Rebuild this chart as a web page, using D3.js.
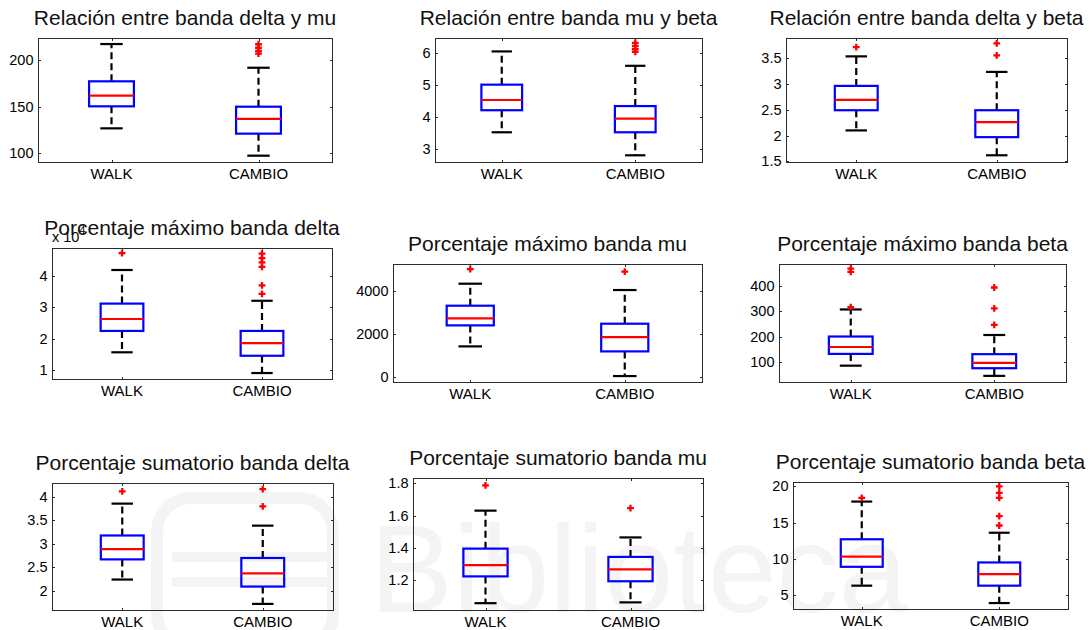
<!DOCTYPE html>
<html>
<head>
<meta charset="utf-8">
<script src="https://cdn.jsdelivr.net/npm/d3@7"></script>
<style>
  body { margin: 0; background: #fff; }
  svg { display: block; font-family: "Liberation Sans", Arial, Helvetica, sans-serif; }
</style>
</head>
<body>
<svg id="chart" width="1092" height="630"></svg>
<script>
// ---- data: one entry per panel, [WALK, CAMBIO] inside each ----
const groups = ["WALK", "CAMBIO"];

const titles = [
  "Relación entre banda delta y mu",
  "Relación entre banda mu y beta",
  "Relación entre banda delta y beta",
  "Porcentaje máximo banda delta",
  "Porcentaje máximo banda mu",
  "Porcentaje máximo banda beta",
  "Porcentaje sumatorio banda delta",
  "Porcentaje sumatorio banda mu",
  "Porcentaje sumatorio banda beta"
];

const whiskerLow = [
  [126.5, 97.1], [3.52, 2.80], [2.10, 1.62],
  [15700, 9100], [1431, 62], [87, 47],
  [2.24, 1.72], [1.06, 1.065], [6.3, 3.9]
];
const q1 = [
  [150.2, 120.8], [4.21, 3.52], [2.49, 1.97],
  [22500, 14600], [2400, 1200], [133, 77],
  [2.67, 2.09], [1.225, 1.195], [8.9, 6.3]
];
const medians = [
  [161.6, 136.6], [4.53, 3.95], [2.69, 2.26],
  [26300, 18600], [2723, 1862], [160, 98],
  [2.89, 2.37], [1.295, 1.268], [10.3, 7.9]
];
const q3 = [
  [177.1, 149.8], [5.01, 4.34], [2.96, 2.49],
  [31200, 22500], [3308, 2477], [201, 132],
  [3.18, 2.70], [1.396, 1.345], [12.7, 9.5]
];
const whiskerHigh = [
  [217.2, 191.7], [6.05, 5.60], [3.53, 3.23],
  [41900, 32100], [4323, 4031], [307, 207],
  [3.86, 3.39], [1.63, 1.465], [17.9, 13.6]
];
const outliers = [
  [[], [217, 213.2, 209.7, 206.8]],
  [[], [6.32, 6.22, 6.12, 6.04]],
  [[3.71], [3.78, 3.55]],
  [[47300], [47100, 45700, 44300, 42900, 37000, 34300]],
  [[5000], [4877]],
  [[467, 454, 316], [393, 311, 247]],
  [[4.12], [4.17, 3.80]],
  [[1.785], [1.645]],
  [[18.4], [20.0, 19.1, 18.4, 15.9, 14.6]]
];

// y-axis ranges and ticks
const yDomains = [
  [90.3, 223.7], [2.59, 6.47], [1.49, 3.885],
  [7200, 48900], [-212, 5232], [23, 485],
  [1.59, 4.30], [1.018, 1.831], [3.08, 20.6]
];
const yTicks = [
  [100, 150, 200], [3, 4, 5, 6], [1.5, 2, 2.5, 3, 3.5],
  [10000, 20000, 30000, 40000], [0, 2000, 4000], [100, 200, 300, 400],
  [2, 2.5, 3, 3.5, 4], [1.2, 1.4, 1.6, 1.8], [5, 10, 15, 20]
];
const yTickLabels = [
  ["100", "150", "200"], ["3", "4", "5", "6"], ["1.5", "2", "2.5", "3", "3.5"],
  ["1", "2", "3", "4"], ["0", "2000", "4000"], ["100", "200", "300", "400"],
  ["2", "2.5", "3", "3.5", "4"], ["1.2", "1.4", "1.6", "1.8"], ["5", "10", "15", "20"]
];
// power-of-ten multiplier shown above the y axis (0 = none)
const yExponent = [0, 0, 0, 4, 0, 0, 0, 0, 0];

// ---- layout: axes rectangles [left, top, right, bottom] in px ----
const axesRects = [
  [38, 38, 332, 162], [435, 38, 702, 162], [786, 38, 1067, 162],
  [52, 248, 332, 379], [393, 264, 702, 382], [779, 264, 1066, 382],
  [52, 483, 333, 610], [413, 478, 703, 610], [793, 482, 1068, 609]
];

const svg = d3.select("#chart");

// faint library watermark behind the bottom row
const wmColor = "#f4f4f4";
const wm = svg.append("g").attr("class", "watermark");
wm.append("rect")
  .attr("x", 157).attr("y", 498).attr("width", 176).attr("height", 150).attr("rx", 34)
  .attr("fill", "none").attr("stroke", wmColor).attr("stroke-width", 12);
[552, 577].forEach(y => {
  wm.append("rect").attr("x", 172).attr("y", y).attr("width", 160).attr("height", 10)
    .attr("fill", wmColor);
});
wm.append("text")
  .attr("x", 370).attr("y", 612)
  .attr("font-size", 124)
  .attr("fill", wmColor)
  .text("Biblioteca");

const boxFrac = 0.305;   // box width in x units
const tickLen = 3;
const crisp = v => Math.round(v) + 0.5;

titles.forEach((title, p) => {
  const [L, T, R, B] = axesRects[p];
  const g = svg.append("g");

  const x = d3.scaleLinear().domain([0.5, 2.5]).range([L, R]);
  const y = d3.scaleLinear().domain(yDomains[p]).range([B, T]);
  const unit = x(2) - x(1);
  const boxW = boxFrac * unit;
  const capW = boxW / 2;

  // frame
  g.append("rect")
    .attr("x", L + 0.5).attr("y", T + 0.5)
    .attr("width", R - L).attr("height", B - T)
    .attr("fill", "none").attr("stroke", "#2b2b2b").attr("stroke-width", 1);

  // y ticks (inside, both sides) and labels
  yTicks[p].forEach((v, i) => {
    const yy = crisp(y(v));
    g.append("line").attr("x1", L).attr("x2", L + tickLen).attr("y1", yy).attr("y2", yy)
      .attr("stroke", "#2b2b2b");
    g.append("line").attr("x1", R - tickLen + 1).attr("x2", R + 1).attr("y1", yy).attr("y2", yy)
      .attr("stroke", "#2b2b2b");
    g.append("text")
      .attr("x", L - 4.5).attr("y", y(v))
      .attr("text-anchor", "end").attr("dominant-baseline", "central")
      .attr("font-size", 14.5).attr("fill", "#000")
      .text(yTickLabels[p][i]);
  });

  // x ticks (inside, top and bottom) and group labels
  groups.forEach((name, gi) => {
    const xx = crisp(x(gi + 1));
    g.append("line").attr("x1", xx).attr("x2", xx).attr("y1", B + 1).attr("y2", B - tickLen + 1)
      .attr("stroke", "#2b2b2b");
    g.append("line").attr("x1", xx).attr("x2", xx).attr("y1", T).attr("y2", T + tickLen)
      .attr("stroke", "#2b2b2b");
    g.append("text")
      .attr("x", x(gi + 1)).attr("y", B + 16.5)
      .attr("text-anchor", "middle")
      .attr("font-size", 15).attr("fill", "#000")
      .text(name);
  });

  // exponent label
  if (yExponent[p]) {
    const ex = g.append("text").attr("x", L).attr("y", T - 6.5)
      .attr("font-size", 14.5).attr("fill", "#000");
    ex.append("tspan").text("x 10");
    ex.append("tspan").attr("dy", -8).attr("font-size", 10.5).text(yExponent[p]);
  }

  // boxes
  groups.forEach((name, gi) => {
    const cx = x(gi + 1);
    const bg = g.append("g");

    // dashed whiskers
    [[q3[p][gi], whiskerHigh[p][gi]], [q1[p][gi], whiskerLow[p][gi]]].forEach(([a, b]) => {
      bg.append("line")
        .attr("x1", cx).attr("x2", cx).attr("y1", y(a)).attr("y2", y(b))
        .attr("stroke", "#000").attr("stroke-width", 2.2)
        .attr("stroke-dasharray", "7,4");
    });
    // whisker caps
    [whiskerHigh[p][gi], whiskerLow[p][gi]].forEach(v => {
      bg.append("line")
        .attr("x1", cx - capW / 2).attr("x2", cx + capW / 2)
        .attr("y1", y(v)).attr("y2", y(v))
        .attr("stroke", "#000").attr("stroke-width", 2.2);
    });
    // box
    bg.append("rect")
      .attr("x", cx - boxW / 2).attr("y", y(q3[p][gi]))
      .attr("width", boxW).attr("height", y(q1[p][gi]) - y(q3[p][gi]))
      .attr("fill", "none").attr("stroke", "#0000ff").attr("stroke-width", 2.2);
    // median
    bg.append("line")
      .attr("x1", cx - boxW / 2).attr("x2", cx + boxW / 2)
      .attr("y1", y(medians[p][gi])).attr("y2", y(medians[p][gi]))
      .attr("stroke", "#ff0000").attr("stroke-width", 2.2);
    // outliers as red '+'
    const s = 3.4;
    bg.selectAll("path.out").data(outliers[p][gi]).enter().append("path")
      .attr("class", "out")
      .attr("d", v => `M${cx - s},${y(v)}H${cx + s}M${cx},${y(v) - s}V${y(v) + s}`)
      .attr("stroke", "#ff0000").attr("stroke-width", 2.3).attr("fill", "none");
  });

  // title
  g.append("text")
    .attr("x", (L + R) / 2).attr("y", T - 13)
    .attr("text-anchor", "middle")
    .attr("font-size", 21).attr("fill", "#111")
    .text(title);
});
</script>
</body>
</html>
